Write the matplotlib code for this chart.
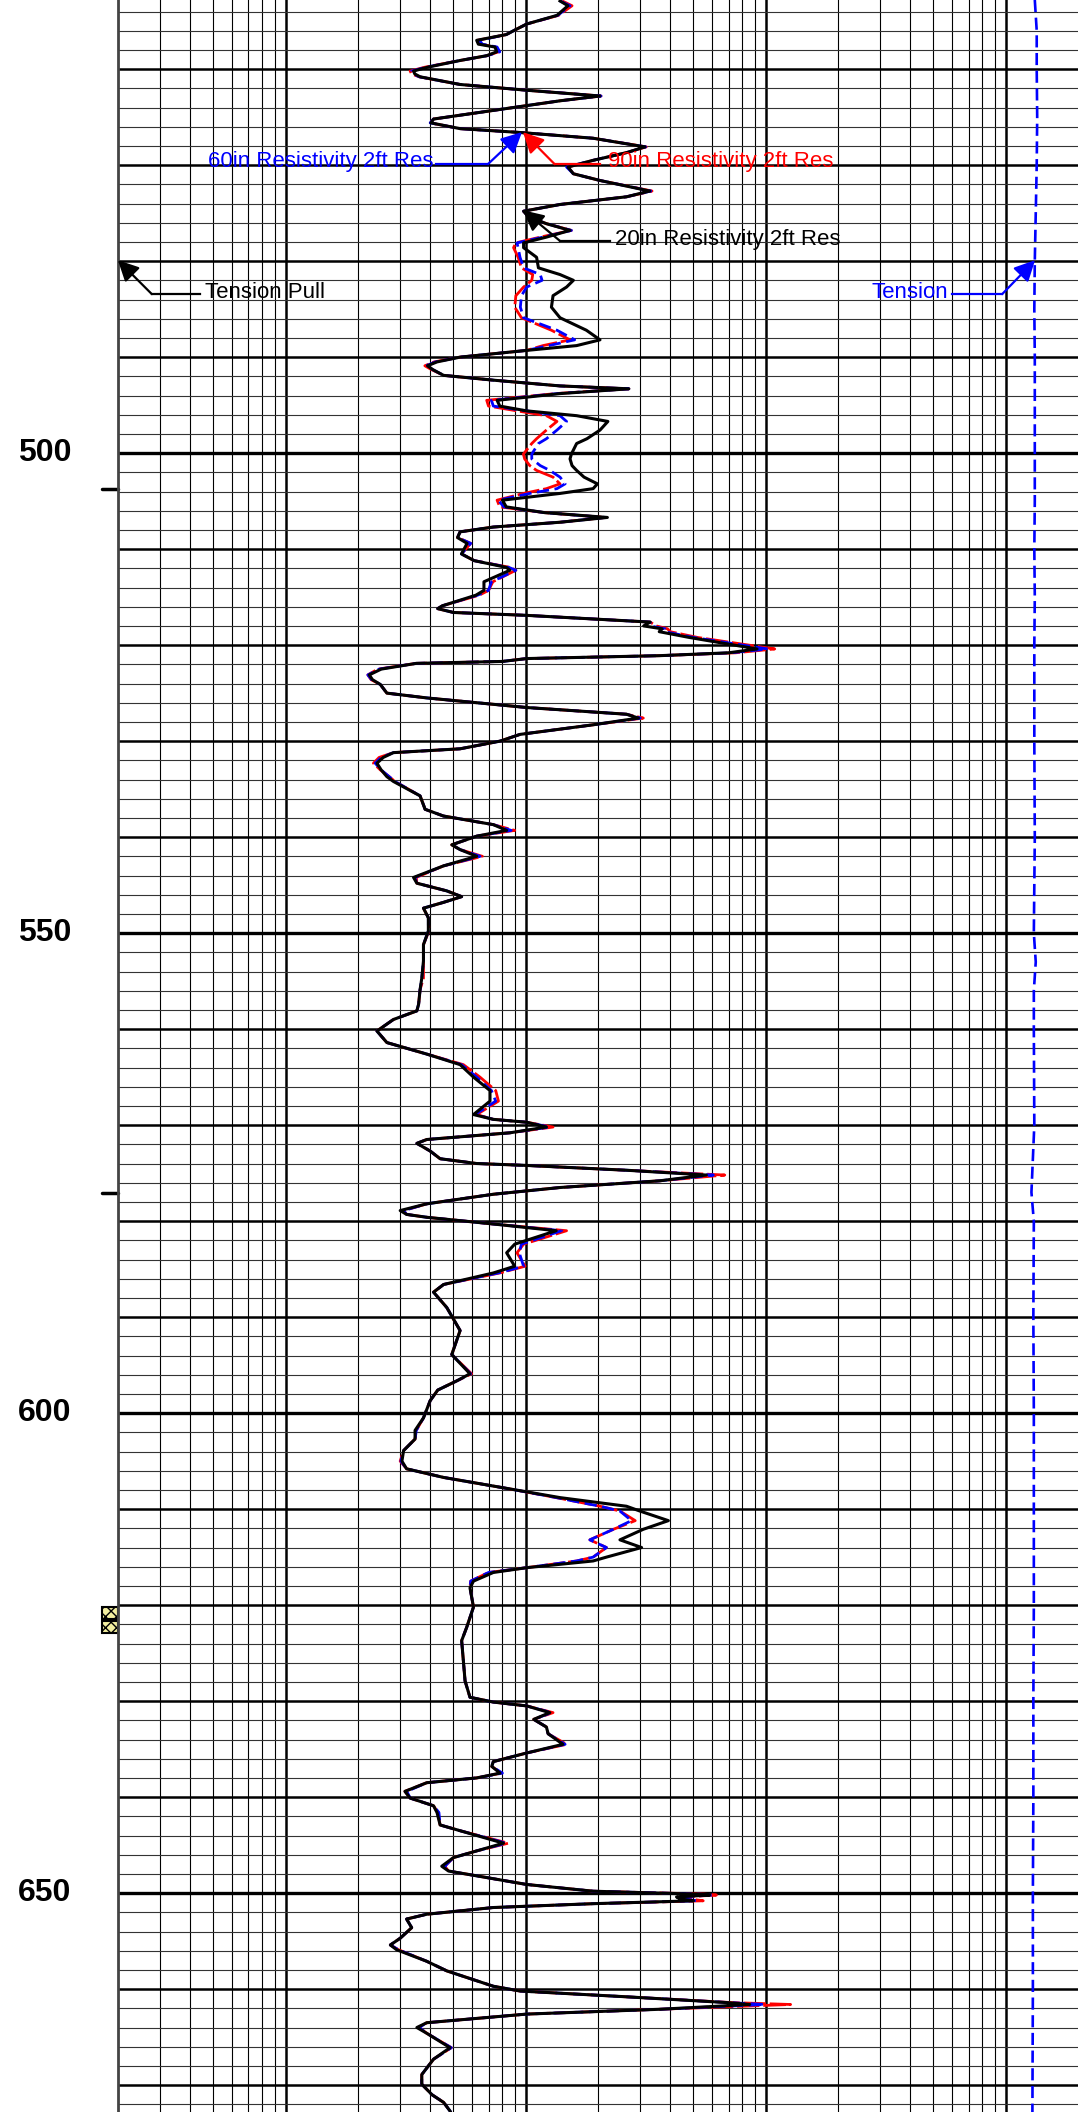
import numpy as np
import matplotlib.pyplot as plt
import matplotlib.transforms as mtransforms
from matplotlib.patches import Rectangle
from matplotlib.ticker import FixedLocator

depth = [452.9, 453.4, 454.4, 455.3, 456.0, 456.4, 457.0, 457.4, 457.7, 458.2, 458.6, 459.1,
         459.8, 460.2, 460.5, 460.8, 461.6, 462.2, 462.8, 463.3, 464.3, 465.2, 465.6, 466.2,
         466.6, 467.2, 468.1, 468.7, 469.5, 470.2, 470.9, 471.6, 472.7, 473.3, 474.1, 474.8,
         475.4, 476.1, 476.8, 477.5, 478.1, 478.6, 479.6, 480.7, 481.4, 482.0, 482.7, 483.6,
         484.8, 485.9, 487.2, 488.2, 488.8, 489.3, 490.0, 490.5, 490.9, 491.3, 491.9, 492.4,
         493.0, 493.3, 493.8, 494.5, 495.1, 495.6, 496.1, 496.7, 497.6, 498.5, 499.0, 500.1,
         500.6, 501.3, 501.8, 502.5, 503.2, 503.7, 504.2, 504.9, 505.6, 506.2, 506.7, 507.2,
         507.7, 508.2, 508.8, 509.4, 510.5, 511.2, 511.9, 512.2, 513.4, 514.3, 514.8, 515.9,
         516.2, 516.6, 516.9, 517.6, 518.0, 518.3, 518.6, 519.2, 520.4, 520.8, 521.1, 521.4,
         521.7, 521.9, 522.5, 523.1, 523.6, 524.1, 525.0, 525.5, 526.5, 527.2, 527.6, 528.3,
         529.3, 530.0, 530.8, 531.2, 531.7, 532.3, 533.0, 533.7, 534.2, 535.7, 537.1, 537.8,
         538.7, 539.3, 539.9, 540.8, 541.3, 542.0, 543.0, 544.2, 544.8, 545.6, 546.2, 546.8,
         547.4, 548.4, 549.8, 551.2, 552.9, 554.7, 555.9, 557.4, 558.1, 559.0, 560.2, 561.4,
         562.6, 563.7, 565.0, 566.4, 567.5, 568.9, 569.4, 569.7, 570.2, 570.8, 571.5, 571.9,
         572.7, 573.5, 574.0, 574.2, 574.7, 575.2, 575.8, 576.5, 577.2, 578.2, 578.9, 579.3,
         579.6, 580.3, 581.0, 582.4, 583.3, 584.7, 585.4, 586.6, 587.4, 589.0, 591.4, 593.9,
         595.9, 596.6, 597.6, 598.7, 600.5, 601.8, 602.7, 603.9, 605.0, 605.8, 606.7, 607.9,
         608.8, 609.7, 610.2, 611.2, 612.1, 613.2, 614.0, 615.0, 615.4, 616.1, 616.6, 617.5,
         618.2, 620.2, 622.3, 623.7, 627.9, 629.6, 630.1, 630.5, 631.2, 631.9, 632.7, 633.4,
         634.5, 635.4, 636.3, 636.8, 637.5, 638.0, 638.5, 639.4, 640.1, 640.9, 641.6, 642.9,
         643.5, 644.8, 645.6, 646.3, 647.2, 647.7, 648.2, 649.1, 649.8, 650.1, 650.2, 650.4,
         650.6, 650.8, 651.1, 651.5, 652.2, 652.7, 653.6, 654.7, 655.4, 655.9, 657.1, 658.1,
         659.7, 660.2, 660.8, 661.4, 661.6, 662.1, 662.6, 663.5, 664.0, 664.6, 666.1, 667.3,
         668.9, 669.9, 671.0, 671.8, 672.7, 673.0]

res20 = [13.9, 15.0, 13.5, 10.1, 8.9, 8.3, 6.25, 6.35, 7.45, 7.57, 6.88, 5.33,
         3.9, 3.41, 3.45, 3.63, 5.33, 10.1, 20.4, 13.9, 7.33, 4.13, 4.03, 5.33,
         9.47, 19.1, 31.4, 26.3, 19.1, 15.0, 15.8, 20.4, 32.9, 26.3, 13.9, 9.8,
         10.3, 12.2, 15.3, 12.2, 9.8, 9.8, 11.1, 11.3, 13.9, 15.8, 14.8, 13.0,
         12.8, 13.9, 17.9, 20.4, 16.3, 10.1, 5.33, 4.27, 3.9, 4.1, 4.55, 7.33,
         13.9, 26.9, 13.9, 7.6, 7.8, 10.1, 16.3, 22.0, 20.4, 18.0, 16.3, 15.5,
         15.3, 15.6, 16.3, 17.5, 19.9, 19.1, 13.9, 8.0, 8.3, 12.0, 21.9, 13.9,
         7.33, 5.33, 5.2, 5.7, 5.4, 6.1, 8.3, 8.6, 6.7, 6.7, 6.2, 4.5,
         4.3, 5.0, 10.1, 33.0, 31.0, 37.0, 36.0, 48.0, 92.0, 70.0, 36.0, 10.1,
         8.0, 3.5, 2.5, 2.23, 2.3, 2.48, 2.64, 3.87, 10.1, 26.3, 29.5, 19.1,
         9.47, 7.82, 5.33, 2.81, 2.55, 2.40, 2.5, 2.64, 2.81, 3.63, 3.81, 4.54,
         7.33, 8.33, 6.25, 4.92, 5.33, 6.25, 4.54, 3.41, 3.52, 4.69, 5.41, 4.54,
         3.75, 3.93, 3.93, 3.75, 3.75, 3.69, 3.63, 3.58, 3.52, 2.81, 2.40, 2.64,
         3.87, 5.33, 6.06, 7.10, 7.10, 6.06, 7.33, 10.1, 12.2, 8.6, 3.87, 3.52,
         4.0, 4.4, 6.25, 10.1, 26.3, 56.6, 36.2, 13.9, 7.33, 3.87, 3.0, 3.19,
         3.87, 7.33, 13.4, 9.0, 8.33, 9.0, 7.33, 4.55, 4.13, 4.69, 5.33, 4.92,
         5.86, 5.2, 4.3, 4.0, 3.75, 3.46, 3.46, 3.10, 3.05, 3.19, 4.55, 8.6,
         13.9, 26.3, 29.9, 39.3, 30.9, 24.7, 30.4, 21.7, 19.1, 10.1, 7.33, 6.06,
         5.86, 6.06, 5.68, 5.41, 5.59, 5.86, 7.33, 10.1, 12.6, 10.8, 12.2, 12.4,
         14.3, 10.1, 7.33, 7.22, 7.82, 6.25, 3.87, 3.14, 3.30, 4.13, 4.27, 4.40,
         5.33, 8.08, 6.25, 5.0, 4.47, 4.77, 6.25, 10.1, 19.1, 50.0, 58.4, 42.5,
         43.9, 50.0, 19.1, 7.33, 3.87, 3.19, 3.35, 3.0, 2.73, 2.90, 3.87, 4.69,
         7.33, 9.47, 26.3, 68.7, 85.8, 36.2, 10.1, 3.87, 3.52, 3.87, 4.84, 4.13,
         3.69, 3.69, 4.07, 4.55, 4.84, 4.9]

res60 = [13.9, 15.3, 13.6, 10.1, 8.9, 8.3, 6.4, 6.6, 7.6, 7.8, 6.9, 5.33,
         3.85, 3.35, 3.4, 3.6, 5.33, 10.1, 20.6, 13.9, 7.33, 4.13, 4.0, 5.33,
         9.47, 19.1, 31.6, 26.3, 19.1, 14.8, 15.8, 20.4, 33.2, 26.3, 13.9, 9.8,
         10.3, 12.2, 15.5, 11.8, 9.2, 9.3, 9.47, 9.8, 11.5, 11.7, 10.1, 9.6,
         9.5, 9.8, 13.5, 16.0, 12.5, 10.1, 5.33, 4.2, 3.85, 4.1, 4.55, 7.33,
         13.9, 26.9, 13.5, 7.2, 7.33, 10.1, 13.9, 14.8, 13.5, 12.2, 11.3, 10.6,
         10.6, 11.5, 12.6, 13.9, 14.6, 13.5, 10.4, 7.7, 8.1, 12.0, 21.5, 13.9,
         7.33, 5.33, 5.2, 5.9, 5.4, 6.1, 8.5, 9.1, 7.2, 7.0, 6.3, 4.5,
         4.3, 5.0, 10.1, 33.0, 33.0, 38.0, 38.0, 50.0, 102.0, 72.0, 36.0, 10.1,
         8.0, 3.5, 2.45, 2.2, 2.28, 2.48, 2.64, 3.87, 10.1, 26.3, 30.0, 19.1,
         9.47, 7.82, 5.33, 2.81, 2.5, 2.36, 2.5, 2.7, 2.85, 3.63, 3.81, 4.54,
         7.33, 8.7, 6.25, 4.92, 5.33, 6.45, 4.54, 3.45, 3.52, 4.69, 5.41, 4.54,
         3.75, 3.93, 3.93, 3.75, 3.75, 3.69, 3.63, 3.58, 3.52, 2.81, 2.40, 2.64,
         3.87, 5.4, 6.25, 7.2, 7.5, 6.15, 7.33, 10.1, 12.6, 8.6, 3.87, 3.52,
         4.0, 4.4, 6.25, 10.1, 26.3, 60.5, 36.2, 13.9, 7.33, 3.87, 3.1, 3.19,
         3.87, 7.33, 14.1, 9.6, 9.4, 9.8, 7.7, 4.55, 4.13, 4.69, 5.33, 4.92,
         5.9, 5.2, 4.3, 4.0, 3.75, 3.5, 3.46, 3.10, 3.02, 3.19, 4.55, 8.6,
         13.4, 20.4, 24.7, 27.6, 23.2, 18.5, 21.7, 19.1, 16.3, 10.1, 7.0, 5.9,
         5.86, 6.06, 5.68, 5.41, 5.59, 5.86, 7.33, 10.1, 12.8, 10.8, 12.2, 12.4,
         14.6, 10.1, 7.33, 7.22, 8.0, 6.25, 3.87, 3.2, 3.30, 4.13, 4.35, 4.40,
         5.33, 8.3, 6.25, 5.0, 4.6, 4.77, 6.25, 10.1, 19.1, 52.0, 60.5, 44.0,
         46.0, 51.6, 19.1, 7.33, 3.87, 3.19, 3.35, 3.0, 2.73, 2.95, 3.87, 4.69,
         7.33, 9.47, 26.3, 70.0, 99.0, 36.2, 10.1, 3.87, 3.6, 3.87, 4.9, 4.13,
         3.69, 3.69, 4.07, 4.55, 4.84, 4.9]

res90 = [14.2, 15.6, 13.7, 10.1, 8.9, 8.3, 6.3, 6.5, 7.5, 7.7, 6.9, 5.33,
         3.8, 3.3, 3.35, 3.6, 5.33, 10.1, 20.6, 13.9, 7.33, 4.13, 4.0, 5.33,
         9.47, 19.1, 31.8, 26.3, 19.1, 15.0, 15.8, 20.4, 33.6, 26.3, 13.9, 9.8,
         10.3, 12.2, 15.5, 11.5, 9.1, 8.9, 9.3, 9.6, 10.7, 10.6, 9.8, 9.1,
         9.0, 9.6, 12.8, 15.3, 11.8, 10.1, 5.33, 4.15, 3.8, 4.05, 4.55, 7.33,
         13.9, 26.9, 13.3, 6.88, 7.0, 9.2, 12.2, 13.5, 12.2, 11.1, 10.6, 9.78,
         9.9, 10.4, 11.1, 13.0, 13.9, 12.2, 9.8, 7.6, 7.8, 12.0, 21.5, 13.9,
         7.33, 5.33, 5.2, 5.9, 5.4, 6.1, 8.6, 9.1, 7.3, 7.0, 6.4, 4.5,
         4.3, 5.0, 10.1, 33.0, 35.0, 39.0, 40.0, 52.0, 109.0, 75.0, 36.0, 10.1,
         8.0, 3.5, 2.42, 2.2, 2.27, 2.48, 2.64, 3.87, 10.1, 26.3, 30.9, 19.1,
         9.47, 7.82, 5.33, 2.81, 2.45, 2.32, 2.48, 2.7, 2.85, 3.63, 3.81, 4.54,
         7.33, 9.0, 6.25, 4.92, 5.33, 6.6, 4.54, 3.5, 3.52, 4.69, 5.41, 4.54,
         3.75, 3.93, 3.95, 3.75, 3.75, 3.75, 3.63, 3.58, 3.52, 2.81, 2.40, 2.64,
         3.87, 5.5, 6.45, 7.5, 7.7, 6.25, 7.33, 10.1, 13.0, 8.6, 3.87, 3.52,
         4.0, 4.4, 6.25, 10.1, 26.3, 67.5, 36.2, 13.9, 7.33, 3.87, 3.1, 3.19,
         3.87, 7.33, 14.8, 9.8, 9.2, 9.94, 7.8, 4.55, 4.13, 4.69, 5.33, 4.92,
         5.95, 5.2, 4.3, 4.0, 3.75, 3.5, 3.46, 3.10, 3.0, 3.19, 4.55, 8.6,
         13.4, 20.4, 24.7, 28.6, 23.2, 18.5, 21.7, 19.1, 16.3, 10.1, 7.0, 5.9,
         5.86, 6.06, 5.68, 5.41, 5.59, 5.86, 7.33, 10.1, 13.0, 10.8, 12.2, 12.4,
         14.8, 10.1, 7.33, 7.22, 7.9, 6.25, 3.87, 3.14, 3.30, 4.13, 4.3, 4.40,
         5.33, 8.47, 6.25, 5.0, 4.6, 4.77, 6.25, 10.1, 19.1, 55.0, 62.3, 45.0,
         48.0, 54.9, 19.1, 7.33, 3.87, 3.19, 3.35, 3.0, 2.73, 2.95, 3.87, 4.69,
         7.33, 9.47, 26.3, 72.0, 127.0, 36.2, 10.1, 3.87, 3.6, 3.87, 4.9, 4.13,
         3.69, 3.69, 4.07, 4.55, 4.84, 4.9]

# cable tension (lbf)
tension_depth = [452.8, 456, 460, 465, 470, 475, 480, 485, 490, 495, 500, 505, 510, 515,
                 520, 525, 530, 540, 550, 553, 556, 560, 570, 577, 580, 590, 600, 610,
                 620, 630, 640, 650, 660, 673]
tension = [955, 957, 957, 957.5, 957, 956, 955, 954.5, 955, 955, 955, 955, 954.5, 955,
           954.5, 954.5, 954.5, 955, 954, 956, 954, 954, 954.5, 951.5, 954, 953.5, 954, 954,
           954, 953.5, 953.5, 953, 953, 952.5]

depth_labels = [500, 550, 600, 650]
tick_depths = [503.7, 577.1]
flag_depths = [620.8, 622.3]

plt.rcParams['font.family'] = ['Liberation Sans', 'DejaVu Sans']

fig = plt.figure(figsize=(10.78, 21.12), dpi=100)
left = 117.9 / 1078
ax = fig.add_axes([left, 0, 1 - left, 1])
ax.set_xscale('log')
ax.set_xlim(0.2, 2000)
ax.set_ylim(672.8, 452.8)

# log grid (decades thick) and depth grid (10 ft thick, 2 ft thin)
ax.xaxis.set_major_locator(FixedLocator([1, 10, 100, 1000]))
ax.xaxis.set_minor_locator(FixedLocator([k * 10.0**e for e in range(-1, 3) for k in range(2, 10)]))
ax.yaxis.set_major_locator(FixedLocator(np.arange(460, 680, 10)))
ax.yaxis.set_minor_locator(FixedLocator(np.arange(454, 674, 2)))
ax.grid(which='major', axis='x', color='k', lw=1.8)
ax.grid(which='minor', axis='x', color='k', lw=0.8)
ax.grid(which='major', axis='y', color='k', lw=1.8)
ax.grid(which='minor', axis='y', color='#333333', lw=0.8)
for d in depth_labels:
    ax.axhline(d, color='k', lw=2.4, zorder=0.6)
ax.set_axisbelow(True)
ax.tick_params(which='both', length=0, labelbottom=False, labelleft=False)
for s in ['top', 'right', 'bottom']:
    ax.spines[s].set_visible(False)
ax.spines['left'].set_linewidth(2)
ax.spines['left'].set_color('#444444')

ax.plot(res90, depth, color='#ff0000', lw=2.0, dashes=(8, 1.4), solid_joinstyle='round')
ax.plot(res60, depth, color='#0000ff', lw=2.0, dashes=(4.4, 2.0), solid_joinstyle='round')
ax.plot(res20, depth, color='k', lw=2.2, solid_joinstyle='round')

ax2 = ax.twiny()
ax2.set_xlim(0, 1000)
ax2.set_axis_off()
ax2.plot(tension, tension_depth, color='#0000ff', lw=1.9, dashes=(4.6, 2.1))

# depth numbers and side marks
trans = mtransforms.blended_transform_factory(ax.transAxes, ax.transData)
for d in depth_labels:
    ax.text(-0.0488, d, str(d), transform=trans, ha='right', va='center',
            fontsize=23, fontweight='bold')
for d in tick_depths:
    ax.plot([-0.0166, 0], [d, d], transform=trans, color='k', lw=2.5,
            solid_capstyle='round', clip_on=False)
for d in flag_depths:
    ax.add_patch(Rectangle((-0.0166, d - 0.6), 0.0166, 1.2, transform=trans,
                           facecolor='#f3efa0', edgecolor='k', lw=1.5, hatch='xxx',
                           clip_on=False))


def pointer(axis, text, text_xy, ha, line_x, line_y, tip, color):
    axis.text(text_xy[0], text_xy[1], text, ha=ha, va='center', color=color, fontsize=16)
    axis.plot(line_x, [line_y, line_y], color=color, lw=1.6, clip_on=False)
    axis.annotate('', xy=tip, xytext=(line_x[1], line_y),
                  arrowprops=dict(arrowstyle='-|>,head_length=0.9,head_width=0.45',
                                  color=color, lw=1.6, shrinkA=0, shrinkB=0,
                                  mutation_scale=14))


pointer(ax, '60in Resistivity 2ft Res', (4.11, 469.6), 'right', [4.23, 6.96], 469.9,
        (9.65, 466.56), '#0000ff')
pointer(ax, '90in Resistivity 2ft Res', (22.0, 469.6), 'left', [20.4, 13.2], 469.9,
        (9.74, 466.56), '#ff0000')
pointer(ax, '20in Resistivity 2ft Res', (23.5, 477.8), 'left', [22.5, 13.9], 477.9,
        (9.74, 474.7), 'k')
pointer(ax, 'Tension Pull', (0.46, 483.3), 'left', [0.44, 0.277], 483.44,
        (0.2, 479.9), 'k')
pointer(ax2, 'Tension', (864.7, 483.3), 'right', [868.9, 921.0], 483.44,
        (955.3, 479.9), '#0000ff')

fig.savefig('out.png', dpi=100)
